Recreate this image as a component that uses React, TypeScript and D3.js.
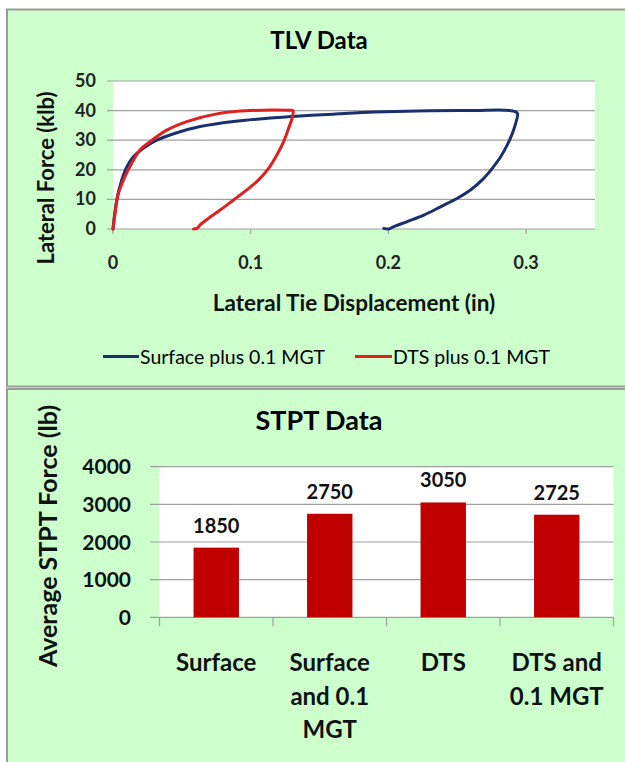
import React from "react";
import * as d3 from "d3";

// ---------- Data ----------
const surfaceX = [0, 0.0027, 0.0063, 0.01, 0.0148, 0.022, 0.0318, 0.0463, 0.0633, 0.0875, 0.112, 0.136, 0.16, 0.19, 0.221, 0.26, 0.288, 0.2936, 0.2924, 0.29, 0.2863, 0.2815, 0.2754, 0.2681, 0.2596, 0.25, 0.2378, 0.2257, 0.2136, 0.2039, 0.2002, 0.1966];
const surfaceY = [0, 9.8, 16.5, 21, 24.4, 27.3, 30, 32.5, 34.6, 36.3, 37.4, 38.2, 38.8, 39.5, 39.9, 40, 40, 39.1, 35.7, 32.3, 28.4, 24.4, 20.5, 16.6, 13.2, 10.4, 7.5, 4.7, 2.5, 0.8, 0, 0.2];
const dtsX = [0, 0.0015, 0.0039, 0.0087, 0.0136, 0.0196, 0.0269, 0.039, 0.0536, 0.0754, 0.0996, 0.128, 0.1307, 0.13, 0.1275, 0.1239, 0.119, 0.113, 0.1057, 0.0972, 0.0875, 0.0778, 0.0693, 0.0633, 0.0609, 0.0584];
const dtsY = [0, 5.3, 12, 17.7, 22.2, 26.7, 29.5, 33.4, 36.3, 38.9, 40, 40.1, 40, 37.4, 34, 29.5, 25, 20.5, 16.6, 13.2, 9.8, 6.4, 3.6, 1.4, 0.2, 0];
const tlvYTicks = [0, 10, 20, 30, 40, 50];
const tlvXTicks = [0, 0.1, 0.2, 0.3];
const seriesNames = ["Surface plus 0.1 MGT", "DTS plus 0.1 MGT"];

const stptCategories = ["Surface", "Surface and 0.1 MGT", "DTS", "DTS and 0.1 MGT"];
const stptLabelLines = [["Surface"], ["Surface", "and 0.1", "MGT"], ["DTS"], ["DTS and", "0.1 MGT"]];
const stptValues = [1850, 2750, 3050, 2725];
const stptYTicks = [0, 1000, 2000, 3000, 4000];

const FONT = "Lato, 'Open Sans', sans-serif";
const BG = "#CCFFCC";

export default function App() {
  // top chart scales
  const x = d3.scaleLinear().domain([0, 0.35]).range([113, 595]);
  const y = d3.scaleLinear().domain([0, 50]).range([229, 81]);
  const line = d3.line<[number, number]>().x((d) => x(d[0])).y((d) => y(d[1])).curve(d3.curveCatmullRom.alpha(0.5));
  const surfacePts = surfaceX.map((v, i) => [v, surfaceY[i]] as [number, number]);
  const dtsPts = dtsX.map((v, i) => [v, dtsY[i]] as [number, number]);

  // bottom chart scales
  const xb = d3.scaleBand().domain(stptCategories).range([159.5, 613.5]).paddingInner(0.6).paddingOuter(0.3);
  const yb = d3.scaleLinear().domain([0, 4000]).range([617.3, 466.7]);
  const step = xb.step();
  const boundaries = d3.range(stptCategories.length + 1).map((i) => 159.5 + i * step);

  const blue = "#1A2F6E";
  const red = "#E01F1F";
  const grid = "#A0A0A0";

  return (
    <div style={{ position: "absolute", left: 0, top: 0, width: 625, height: 762 }}>
      <svg width={625} height={762} style={{ display: "block", fontFamily: FONT }}>
        <rect x={0} y={0} width={625} height={762} fill="#ffffff" />
        {/* top panel */}
        <rect x={7} y={9.5} width={630} height={377} fill={BG} stroke="#9A9A9A" strokeWidth={2} />
        {/* bottom panel */}
        <rect x={7} y={389} width={630} height={390} fill={BG} stroke="#9A9A9A" strokeWidth={2} />

        {/* ---- TLV chart ---- */}
        <text x={319} y={49} textAnchor="middle" fontSize={24} fontWeight="bold" fill="#000">TLV Data</text>
        <rect x={x(0)} y={y(50)} width={x(0.35) - x(0)} height={y(0) - y(50)} fill="#fff" />
        {tlvYTicks.map((t) => (
          <g key={t}>
            <line x1={107} x2={x(0.35)} y1={y(t)} y2={y(t)} stroke={grid} strokeWidth={1.2} />
            <text x={96} y={y(t) + 6} textAnchor="end" fontSize={18} fontWeight="bold" fill="#222">{t}</text>
          </g>
        ))}
        {tlvXTicks.map((t) => (
          <g key={t}>
            <line x1={x(t)} x2={x(t)} y1={y(0)} y2={y(0) + 5} stroke={grid} strokeWidth={1.2} />
            <text x={x(t)} y={269} textAnchor="middle" fontSize={18} fontWeight="bold" fill="#222">{t}</text>
          </g>
        ))}
        <text transform={`translate(54,178) rotate(-90)`} textAnchor="middle" fontSize={22} fontWeight="bold" fill="#111">Lateral Force (klb)</text>
        <text x={354} y={311} textAnchor="middle" fontSize={22.5} fontWeight="bold" fill="#111">Lateral Tie Displacement (in)</text>
        <path d={line(surfacePts) || ""} fill="none" stroke={blue} strokeWidth={3} strokeLinejoin="round" strokeLinecap="round" />
        <path d={line(dtsPts) || ""} fill="none" stroke={red} strokeWidth={3} strokeLinejoin="round" strokeLinecap="round" />

        {/* legend */}
        <line x1={103} x2={139} y1={356.5} y2={356.5} stroke={blue} strokeWidth={3} />
        <text x={140} y={363.5} fontSize={19.5} fill="#000">{seriesNames[0]}</text>
        <line x1={355} x2={392} y1={356.5} y2={356.5} stroke={red} strokeWidth={3} />
        <text x={393} y={363.5} fontSize={19.5} fill="#000">{seriesNames[1]}</text>

        {/* ---- STPT chart ---- */}
        <text x={319} y={430} textAnchor="middle" fontSize={27} fontWeight="bold" fill="#000">STPT Data</text>
        <rect x={159.5} y={yb(4000)} width={454} height={yb(0) - yb(4000)} fill="#fff" />
        {stptYTicks.map((t) => (
          <g key={t}>
            <line x1={150} x2={613.5} y1={yb(t)} y2={yb(t)} stroke={grid} strokeWidth={1.2} />
            <text x={131} y={yb(t) + 7.5} textAnchor="end" fontSize={21} fontWeight="bold" fill="#111">{t}</text>
          </g>
        ))}
        {boundaries.map((b, i) => (
          <line key={i} x1={b} x2={b} y1={yb(0)} y2={yb(0) + 9} stroke={grid} strokeWidth={1.2} />
        ))}
        {stptCategories.map((c, i) => (
          <g key={c}>
            <rect x={xb(c)} y={yb(stptValues[i])} width={xb.bandwidth()} height={yb(0) - yb(stptValues[i])} fill="#C00000" />
            <text x={(xb(c) || 0) + xb.bandwidth() / 2} y={yb(stptValues[i]) - 15} textAnchor="middle" fontSize={20} fontWeight="bold" fill="#111">{stptValues[i]}</text>
            {stptLabelLines[i].map((ln, j) => (
              <text key={j} x={(xb(c) || 0) + xb.bandwidth() / 2} y={671 + j * 33.5} textAnchor="middle" fontSize={24} fontWeight="bold" fill="#111">{ln}</text>
            ))}
          </g>
        ))}
        <text transform={`translate(57,536) rotate(-90)`} textAnchor="middle" fontSize={25} fontWeight="bold" fill="#111">Average STPT Force (lb)</text>
      </svg>
    </div>
  );
}
